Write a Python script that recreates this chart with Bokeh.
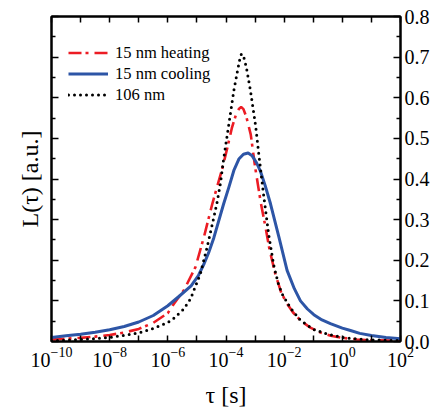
import numpy as np
from bokeh.plotting import figure
from bokeh.models import (LogAxis, LinearAxis, FixedTicker, CustomJSTickFormatter,
                          PrintfTickFormatter, Range1d, Legend, LegendItem)
from bokeh.embed import file_html
from bokeh.resources import INLINE

# ---- data (log10 of tau in s, L in a.u.) ----
cool_logtau = [-10.0, -9.5, -9.0, -8.5, -8.0, -7.5, -7.0, -6.5, -6.0, -5.6, -5.2, -4.95,
               -4.75, -4.6, -4.42, -4.08, -3.9, -3.73, -3.55, -3.4, -3.24, -3.1, -2.95,
               -2.81, -2.65, -2.47, -2.18, -1.9, -1.65, -1.44, -1.2, -0.98, -0.7, -0.41, 0.0,
               0.28, 0.6, 1.0, 1.5, 2.0]
cool_L = [0.010, 0.014, 0.018, 0.023, 0.029, 0.037, 0.048, 0.064, 0.088, 0.112, 0.137, 0.162,
          0.192, 0.218, 0.255, 0.339, 0.380, 0.421, 0.450, 0.461, 0.464, 0.457, 0.440,
          0.418, 0.383, 0.339, 0.257, 0.175, 0.130, 0.100, 0.080, 0.066, 0.053, 0.044, 0.033,
          0.027, 0.020, 0.015, 0.010, 0.007]

heat_logtau = [-10.0, -9.5, -9.0, -8.5, -8.0, -7.5, -7.0, -6.5, -6.0, -5.79, -5.45, -5.05,
               -4.76, -4.47, -4.13, -3.96, -3.8, -3.65, -3.55, -3.48, -3.4, -3.3, -3.15, -3.0,
               -2.9, -2.8, -2.65, -2.5, -2.3, -2.1, -1.9, -1.7, -1.44, -1.1, -0.75, -0.4, 0.0,
               0.5, 1.0, 2.0]
heat_L = [0.005, 0.007, 0.009, 0.012, 0.016, 0.022, 0.031, 0.046, 0.070, 0.093, 0.126, 0.183,
          0.257, 0.339, 0.425, 0.475, 0.525, 0.560, 0.573, 0.577, 0.572, 0.553, 0.510, 0.430,
          0.385, 0.340, 0.285, 0.225, 0.165, 0.120, 0.093, 0.072, 0.052, 0.034, 0.022, 0.014,
          0.009, 0.005, 0.003, 0.002]

n106_logtau = [-10.0, -9.5, -9.0, -8.5, -8.0, -7.5, -7.0, -6.5, -6.0, -5.8, -5.45, -5.22,
               -4.88, -4.65, -4.42, -4.3, -4.19, -4.08, -3.9, -3.73, -3.6, -3.52, -3.47, -3.4,
               -3.3, -3.16, -2.98, -2.87, -2.78, -2.7, -2.53, -2.36, -2.2, -2.07, -1.78, -1.44,
               -1.0, -0.5, 0.0, 0.5, 1.0, 2.0]
n106_L = [0.002, 0.003, 0.005, 0.007, 0.010, 0.015, 0.021, 0.032, 0.047, 0.057, 0.080, 0.105,
          0.167, 0.232, 0.305, 0.345, 0.390, 0.450, 0.536, 0.618, 0.668, 0.697, 0.708, 0.703,
          0.675, 0.618, 0.530, 0.460, 0.405, 0.357, 0.262, 0.188, 0.142, 0.117, 0.082, 0.052,
          0.030, 0.018, 0.010, 0.006, 0.004, 0.002]

series_names = ["15 nm heating", "15 nm cooling", "106 nm"]
x_major_exp = [-10, -8, -6, -4, -2, 0, 2]
x_minor_exp = [-9, -7, -5, -3, -1, 1]
y_major = [0.0, 0.1, 0.2, 0.3, 0.4, 0.5, 0.6, 0.7, 0.8]
y_minor = [0.05, 0.15, 0.25, 0.35, 0.45, 0.55, 0.65, 0.75]

FONT = "'Liberation Serif', 'Times New Roman', serif"

p = figure(frame_width=349, frame_height=325, x_axis_type="log",
           x_range=Range1d(1e-10, 1e2), y_range=Range1d(0, 0.8),
           output_backend="svg", toolbar_location=None,
           min_border_left=51, min_border_top=16, min_border_right=34, min_border_bottom=69,
           y_axis_location="right")
p.background_fill_color = "white"
p.border_fill_color = "white"
p.grid.visible = False
p.outline_line_color = "black"
p.outline_line_width = 2

xt = FixedTicker(ticks=[10.0 ** e for e in x_major_exp], minor_ticks=[10.0 ** e for e in x_minor_exp])
yt = FixedTicker(ticks=y_major, minor_ticks=y_minor)
blank = CustomJSTickFormatter(code="return ''")

def style_axis(ax):
    ax.axis_line_color = "black"
    ax.axis_line_width = 2
    ax.major_tick_line_color = "black"
    ax.minor_tick_line_color = "black"
    ax.major_tick_line_width = 1.5
    ax.minor_tick_line_width = 1.5
    ax.major_tick_out = 0
    ax.minor_tick_out = 0
    ax.major_label_text_font = FONT
    ax.major_label_text_font_size = "20px"
    ax.major_label_text_color = "black"
    ax.axis_label_text_font = FONT
    ax.axis_label_text_font_size = "24px"
    ax.axis_label_text_font_style = "normal"
    ax.axis_label_text_color = "black"

# bottom axis
bx = p.xaxis[0]
bx.ticker = xt
style_axis(bx)
bx.major_tick_in = 6
bx.minor_tick_in = 6
bx.major_label_standoff = 5
bx.axis_label = "τ [s]"
bx.axis_label_standoff = 12

# top axis
tx = LogAxis(ticker=xt, formatter=blank)
style_axis(tx)
tx.major_tick_in = 6
tx.minor_tick_in = 6
tx.major_label_standoff = 0
p.add_layout(tx, "above")

# right axis (labels)
ry = p.yaxis[0]
ry.ticker = yt
ry.formatter = PrintfTickFormatter(format="%.1f")
style_axis(ry)
ry.major_tick_in = 7
ry.minor_tick_in = 4
ry.major_label_standoff = 4

# left axis (no labels)
ly = LinearAxis(ticker=yt, formatter=blank)
style_axis(ly)
ly.major_tick_in = 7
ly.minor_tick_in = 4
ly.major_label_standoff = 5
ly.axis_label = "L(τ) [a.u.]"
ly.axis_label_standoff = 9
p.add_layout(ly, "left")

r_heat = p.line([10.0 ** v for v in heat_logtau], heat_L, line_color="#ec1c24", line_width=2.6,
                line_dash="13 4 3 6")
r_cool = p.line([10.0 ** v for v in cool_logtau], cool_L, line_color="#2d55a6", line_width=3,
                line_join="round")
r_n106 = p.line([10.0 ** v for v in n106_logtau], n106_L, line_color="black", line_width=3,
                line_dash="0 6", line_cap="round")

legend = Legend(items=[LegendItem(label=series_names[0], renderers=[r_heat]),
                       LegendItem(label=series_names[1], renderers=[r_cool]),
                       LegendItem(label=series_names[2], renderers=[r_n106])],
                location=(17, 236), orientation="vertical")
legend.border_line_color = None
legend.background_fill_alpha = 0
legend.margin = 0
legend.padding = 0
legend.spacing = 0
legend.label_height = 21
legend.glyph_height = 21
legend.glyph_width = 40
legend.label_standoff = 7
legend.label_text_font = FONT
legend.label_text_font_size = "16.5px"
legend.label_text_color = "black"
p.add_layout(legend, "center")

open("out.html", "w").write(file_html(p, INLINE))
